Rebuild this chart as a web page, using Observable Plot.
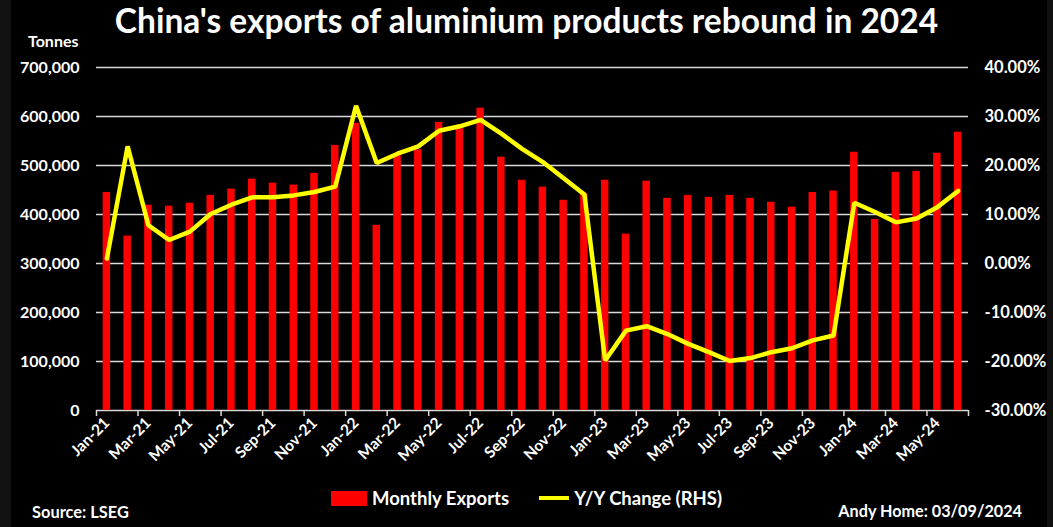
<!DOCTYPE html>
<html><head><meta charset="utf-8">
<script src="https://cdn.jsdelivr.net/npm/d3@7"></script>
<script src="https://cdn.jsdelivr.net/npm/@observablehq/plot@0.6"></script>
<style>
html,body{margin:0;padding:0;background:#000;}
#wrap{position:relative;width:1053px;height:527px;background:#000;color:#fff;font-family:Lato,"Open Sans",sans-serif;font-weight:bold;overflow:hidden}
#edgeL{position:absolute;left:0;top:0;width:11px;height:527px;background:#121212}
#edgeR{position:absolute;right:0;top:0;width:6px;height:527px;background:#101010}
#title{position:absolute;top:0;left:0;width:1053px;text-align:center;font-size:33.5px;line-height:40px;}
#tonnes{position:absolute;left:28px;top:31px;font-size:16px;z-index:2}
#chart{position:absolute;left:0;top:40px;width:1053px;height:440px}
#legend{position:absolute;top:487px;left:0;width:1053px;display:flex;justify-content:center;align-items:center;font-size:18.5px}
.sw{display:inline-block;margin-right:5px}
#source{position:absolute;left:32px;top:502px;font-size:16.4px}
#author{position:absolute;right:31px;top:501px;font-size:16.2px}
</style></head>
<body>
<div id="wrap">
  <div id="edgeL"></div><div id="edgeR"></div>
  <div id="title">China's exports of aluminium products rebound in 2024</div>
  <div id="tonnes">Tonnes</div>
  <div id="chart"></div>
  <div id="legend">
    <span class="sw" style="width:36px;height:15px;background:#ff0000"></span><span>Monthly Exports</span>
    <span class="sw" style="width:30px;height:4px;background:#ffff00;margin-left:30px"></span><span>Y/Y Change (RHS)</span>
  </div>
  <div id="source">Source: LSEG</div>
  <div id="author">Andy Home: 03/09/2024</div>
</div>
<script>
const months = ["Jan-21","Feb-21","Mar-21","Apr-21","May-21","Jun-21","Jul-21","Aug-21","Sep-21","Oct-21","Nov-21","Dec-21",
"Jan-22","Feb-22","Mar-22","Apr-22","May-22","Jun-22","Jul-22","Aug-22","Sep-22","Oct-22","Nov-22","Dec-22",
"Jan-23","Feb-23","Mar-23","Apr-23","May-23","Jun-23","Jul-23","Aug-23","Sep-23","Oct-23","Nov-23","Dec-23",
"Jan-24","Feb-24","Mar-24","Apr-24","May-24","Jun-24"];
const exportsT = [445000,356000,419000,417000,423000,439000,452000,472000,464000,460000,484000,541000,
586000,378000,520000,532000,588000,575000,617000,517000,470000,456000,429000,442000,
470000,360000,468000,433000,439000,435000,439000,433000,425000,415000,445000,448000,
527000,390000,486000,488000,525000,568000];
const yoyPct = [1.0,23.9,7.8,4.8,6.5,10.1,12.0,13.5,13.5,13.9,14.6,15.7,
32.2,20.5,22.4,23.9,27.1,28.0,29.3,26.5,23.4,20.7,17.4,14.1,
-19.8,-13.7,-12.8,-14.4,-16.4,-18.1,-19.9,-19.3,-18.1,-17.3,-15.7,-14.7,
12.4,10.5,8.4,9.2,11.5,14.8];
const leftTicks = [0,100000,200000,300000,400000,500000,600000,700000];
const rightTickLabels = ["-30.00%","-20.00%","-10.00%","0.00%","10.00%","20.00%","30.00%","40.00%"];
const xTickMonths = months.filter((d,i)=>i%2===0);
const xTickEnds = months.filter((d,i)=>i%2===1);

// right axis (-30%..40%) shares the tonnes scale (0..700,000)
const toLeft = p => (p + 30) * 10000;

const data = months.map((m,i)=>({month:m, exp:exportsT[i], yoy:yoyPct[i]}));
const bw = (1053-96-85)/months.length;

const chart = Plot.plot({
  width: 1053,
  height: 440,
  marginLeft: 96,
  marginRight: 85,
  marginTop: 27,
  marginBottom: 70,
  style: {background:"transparent", color:"#fff", fontFamily:"Lato, 'Open Sans', sans-serif", fontWeight:"bold", maxWidth:"none"},
  x: {type:"band", domain: months, paddingInner: 0.64, paddingOuter: 0.32, align:0.5},
  y: {domain:[0,700000]},
  marks: [
    Plot.gridY(leftTicks, {stroke:"#d9d9d9", strokeOpacity:1, strokeWidth:1.5}),
    Plot.axisY(leftTicks, {anchor:"left", tickSize:0, tickPadding:17, tickFormat: d3.format(","), fontSize:16, label:null}),
    Plot.axisY(leftTicks, {anchor:"right", tickSize:0, tickPadding:16, tickFormat: (d,i)=>rightTickLabels[i], fontSize:16.5, label:null}),
    Plot.barY(data, {x:"month", y:"exp", fill:"#ff0000"}),
    Plot.axisX([months[0]], {tickSize:6, tickFormat: ()=>"", dx: -bw/2, stroke:"#d9d9d9", strokeWidth:1.5, label:null}),
    Plot.axisX(xTickEnds, {tickSize:6, tickFormat: ()=>"", dx: bw/2, stroke:"#d9d9d9", strokeWidth:1.5, label:null}),
    Plot.axisX(xTickMonths, {tickSize:0, tickRotate:-45, tickPadding:10, fontSize:15.5, label:null}),
    Plot.line(data, {x:"month", y: d=>toLeft(d.yoy), stroke:"#ffff00", strokeWidth:4.5, strokeLinejoin:"miter"})
  ]
});
document.getElementById("chart").appendChild(chart);
</script>
</body></html>
